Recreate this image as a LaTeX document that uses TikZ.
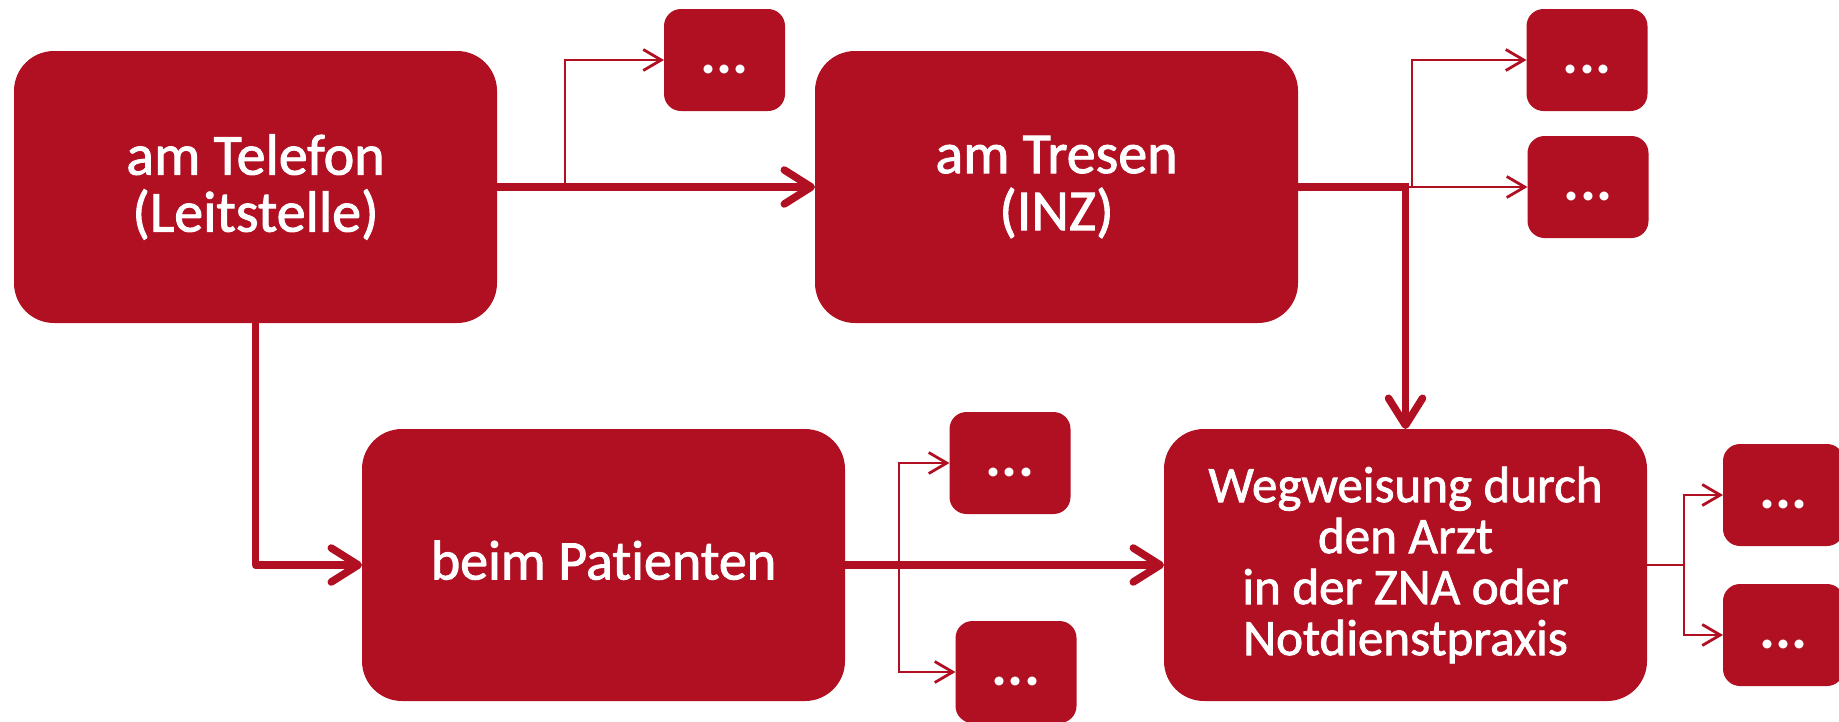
\documentclass[tikz,border=0pt]{standalone}
\usepackage{fontspec}
\setmainfont{Carlito}[Ligatures=NoCommon]
\newfontfamily\medfont{Carlito}[Ligatures=NoCommon,FakeBold=1.6]
\usetikzlibrary{arrows.meta}
\definecolor{dred}{RGB}{176,16,34}
\begin{document}
\begin{tikzpicture}[x=1pt,y=-1pt,
  bigbox/.style={fill=dred, rounded corners=40pt, minimum width=483pt, minimum height=272pt,
    inner sep=0pt, outer sep=0pt, text=white, align=center, font=\medfont\fontsize{58}{57}\selectfont},
  smallbox/.style={fill=dred, rounded corners=17pt, minimum width=121pt, minimum height=102pt,
    inner sep=0pt, outer sep=0pt, text=white, font=\fontsize{60}{60}\selectfont\bfseries,
    text height=26pt, text depth=0pt},
  thickarrow/.style={draw=dred, line width=7.5pt, line join=round,
    -{Straight Barb[length=27pt,width=34pt,line cap=round,line join=round]}},
  thinarrow/.style={draw=dred, line width=2.8pt,
    -{Straight Barb[length=18pt,width=21pt]}},
  thinline/.style={draw=dred, line width=2.8pt}
]
\useasboundingbox (0,0) rectangle (1839,721);

\node[bigbox] (tel) at (255.5,187) {am Telefon\\(Leitstelle)};
\node[bigbox] (tre) at (1056.5,187) {am Tresen\\(INZ)};
\node[bigbox, text depth=10pt, font=\medfont\fontsize{56}{57}\selectfont] (pat) at (603.5,565) {beim Patienten};
\node[bigbox, font=\medfont\fontsize{51}{51}\selectfont] (weg) at (1405.5,565)
  {Wegweisung durch\\den Arzt\\in der ZNA oder\\Notdienstpraxis};

\node[smallbox] (s1) at (724.5,60) {...};
\node[smallbox] (s2) at (1587,60) {...};
\node[smallbox] (s3) at (1588,187) {...};
\node[smallbox] (s4) at (1010,463) {...};
\node[smallbox] (s5) at (1016,672) {...};
\node[smallbox] (s6) at (1783.5,495) {...};
\node[smallbox] (s7) at (1783.5,635) {...};

\coordinate (j1) at (565,187);
\coordinate (j2) at (1412,187);
\coordinate (j3) at (899,565);
\coordinate (j4) at (1684,565);

% thin branches
\draw[thinline] (tel.east) -- (j1);
\draw[thinarrow] (j1) |- (s1.west);
\draw[thinline] (tre.east) -- (j2);
\draw[thinarrow] (j2) |- (s2.west);
\draw[thinarrow] (j2) -- (s3.west);
\draw[thinarrow] (j3) |- (s4.west);
\draw[thinarrow] (j3) |- (s5.west);
\draw[thinline] (weg.east) -- (j4);
\draw[thinarrow] (j4) |- (s6.west);
\draw[thinarrow] (j4) |- (s7.west);

% thick main flows
\draw[thickarrow] (tel.east) -- (tre.west);
\draw[thickarrow] (tel.south) |- (pat.west);
\draw[thickarrow] (pat.east) -- (weg.west);
\draw[thickarrow, line join=miter] (tre.east) -| (weg.north);
\end{tikzpicture}
\end{document}
